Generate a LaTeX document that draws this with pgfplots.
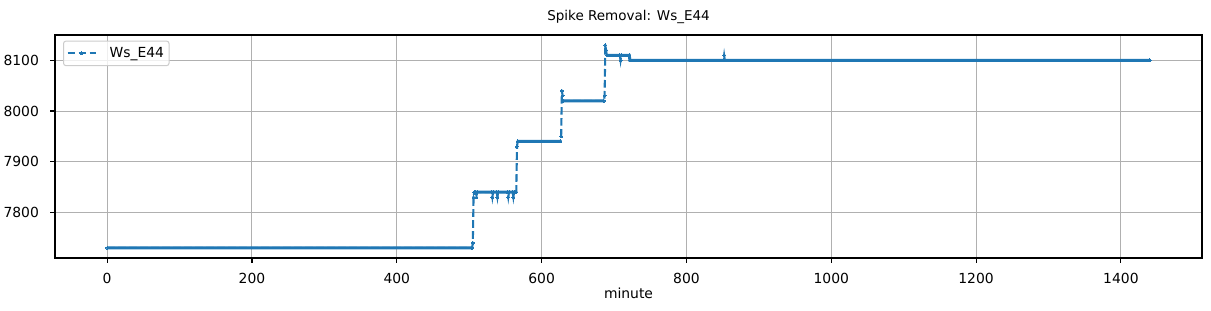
\documentclass[border=0pt]{standalone}
\usepackage{fontspec}
\setmainfont{DejaVu Sans}
\usepackage{pgfplots}
\pgfplotsset{compat=1.18}
\definecolor{mplblue}{HTML}{1F77B4}
\definecolor{gridgray}{HTML}{B0B0B0}
\definecolor{legendgray}{HTML}{CCCCCC}
\begin{document}
\begin{tikzpicture}
\path[use as bounding box] (-55bp,-53bp) rectangle (1156bp,258bp);
\begin{axis}[
  at={(0,0)}, anchor=south west,
  scale only axis, width=1147bp, height=223bp,
  xmin=-72, xmax=1512, ymin=7710, ymax=8150,
  xtick={0,200,...,1400}, ytick={7800,7900,8000,8100},
  /pgf/number format/1000 sep={},
  /pgf/number format/assume math mode=true,
  grid=major, grid style={gridgray, line width=1bp},
  axis line style={line width=1.1bp},
  tick align=outside, tick pos=left, major tick length=4.9bp,
  tick style={black, line width=1.1bp},
  ticklabel style={font=\fontsize{13.9bp}{16bp}\selectfont},
  xticklabel style={inner sep=0pt, anchor=base, yshift=-21bp},
  yticklabel style={inner sep=0pt, anchor=east, xshift=-11bp},
  title={Spike Removal: Ws\_E44},
  title style={at={(axis description cs:0.5,1)}, anchor=base, yshift=8.5bp, inner sep=0pt, font=\fontsize{13.5bp}{16bp}\selectfont},
  xlabel={minute},
  xlabel style={at={(axis description cs:0.5,0)}, anchor=base, yshift=-40bp, inner sep=0pt, font=\fontsize{13.9bp}{16bp}\selectfont},
  unbounded coords=jump,
  legend style={at={(axis description cs:0.007,0.975)}, anchor=north west,
    draw=legendgray, line width=1bp, rounded corners=2.5bp, fill=white, fill opacity=0.8, text opacity=1,
    font=\fontsize{13.9bp}{16bp}\selectfont, inner xsep=3bp, inner ysep=4.5bp,
    /tikz/every odd column/.append style={column sep=11bp}},
  legend cell align=left,
  legend image code/.code={\draw[#1, mark repeat=2, mark phase=2] plot coordinates {(0bp,0bp) (14bp,0bp) (28bp,0bp)};},
]
\addplot[mplblue, line width=2.1bp, dash pattern=on 7.7bp off 3.3bp,
  mark=*, mark size=1.5bp, mark options={solid, line width=0pt, fill=mplblue}]
  coordinates {
  (0,7730) (504,7730) (505,7740) (506,7830) (507,7840) (509,7840) (510,7830) (511,7840)
  (531,7840) (532,7830) (533,7840) (538,7840) (539,7830) (540,7840) (553,7840) (554,7830)
  (555,7840) (560,7840) (561,7830) (562,7840) (565,7840) (566,7930) (567,7940) (626,7940)
  (627,7950) (628,8040) (629,8030) (630,8020) (686,8020) (687,8030) (688,8130) (689,8120)
  (690,8110) (708,8110) (709,8100) (710,8110) (721,8110) (722,8100) (851,8100) (852,8110)
  (853,8100) (1440,8100)
  };
\addlegendentry{Ws\_E44}
\addplot[mplblue, line width=3bp, forget plot] coordinates {
  (0,7730) (504,7730) (505,nan)
  (507,7840) (565,7840) (566,nan)
  (567,7940) (626,7940) (627,nan)
  (630,8020) (686,8020) (687,nan)
  (690,8110) (721,8110) (722,8100) (1440,8100)
  };
\end{axis}
\end{tikzpicture}
\end{document}
